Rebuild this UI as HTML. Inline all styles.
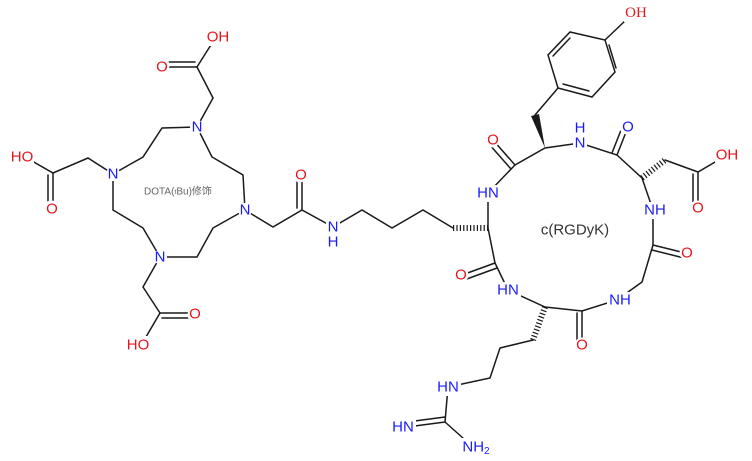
<!DOCTYPE html>
<html><head><meta charset="utf-8"><style>
html,body{margin:0;padding:0;background:#fff;}
svg{display:block;}
text{font-family:"Liberation Sans","Noto Sans CJK SC",sans-serif;font-size:15px;text-anchor:middle;dominant-baseline:central;}
.r{fill:#e8141c;} .b{fill:#1a1aff;}
</style></head><body>
<svg width="752" height="461" viewBox="0 0 752 461">
<g stroke="#1a1a1a" stroke-width="1.5" fill="none" stroke-linecap="round">
<line x1="197" y1="67" x2="214" y2="40"/>
<line x1="197" y1="67" x2="162" y2="67"/><line x1="195" y1="62" x2="162" y2="62"/>
<line x1="197" y1="67" x2="213" y2="98"/><line x1="213" y1="98" x2="197" y2="127"/>
<polyline points="197,127 162,128 143,157 113,174"/>
<polyline points="197,127 212,157 243,175 245,210"/>
<polyline points="245,210 213,228 197,257 160,257"/>
<polyline points="160,257 143,228 113,210 113,174"/>
<polyline points="113,174 88,158 53,173 25,157"/>
<line x1="53" y1="173" x2="53" y2="205"/><line x1="48" y1="175" x2="48" y2="205"/>
<polyline points="160,257 143,287 160,313 143,342"/>
<line x1="160" y1="313" x2="193" y2="313"/><line x1="162" y1="318" x2="193" y2="318"/>
<polyline points="245,210 273,227 302,210 333,227 362,210 392,228 423,210 453,228"/>
<line x1="302" y1="210" x2="302" y2="175"/><line x1="297" y1="208" x2="297" y2="175"/>
<line x1="453" y1="228" x2="488" y2="228" stroke-width="6" stroke-dasharray="1.2 2.2" stroke-linecap="butt"/>
<polyline points="488,228 488,193 515,165 545,148 580,143 617,155 642,178 653,210 653,245 642,282 617,300 582,311 545,307 508,290 495,263 488,228"/>
<line x1="515" y1="165" x2="493" y2="140"/><line x1="511" y1="169" x2="489" y2="144"/>
<line x1="617" y1="155" x2="628" y2="127"/><line x1="612" y1="153" x2="623" y2="125"/>
<line x1="653" y1="245" x2="685" y2="253"/><line x1="652" y1="250" x2="684" y2="258"/>
<line x1="582" y1="311" x2="582" y2="345"/><line x1="577" y1="313" x2="577" y2="345"/>
<line x1="495" y1="263" x2="462" y2="275"/><line x1="497" y1="268" x2="464" y2="280"/>
<line x1="642" y1="178" x2="665" y2="160" stroke-width="6" stroke-dasharray="1.2 2.2" stroke-linecap="butt"/>
<polyline points="665,160 698,172 727,155"/>
<line x1="698" y1="172" x2="698" y2="207"/><line x1="693" y1="174" x2="693" y2="207"/>
<line x1="535" y1="115" x2="558" y2="88"/>
<polygon points="545,148 531,116 539,114" fill="#1a1a1a" stroke="none"/>
<polygon points="558,88 548,55 570,32 605,40 615,72 592,97"/>
<line x1="553" y1="56" x2="570" y2="38"/><line x1="609" y1="45" x2="616" y2="68"/><line x1="563" y1="84" x2="589" y2="91"/>
<line x1="605" y1="40" x2="626" y2="20"/>
<line x1="545" y1="307" x2="533" y2="340" stroke-width="6" stroke-dasharray="1.2 2.2" stroke-linecap="butt"/>
<polyline points="533,340 500,348 490,378 448,387 445,422 473,447"/>
<line x1="445" y1="422" x2="407" y2="427"/><line x1="445" y1="417" x2="407" y2="422"/>
</g>
<g fill="#fff">
<rect x="206" y="28" width="25" height="18"/>
<circle cx="162" cy="65" r="7.5"/>
<circle cx="197" cy="127" r="7"/><circle cx="113" cy="174" r="7"/><circle cx="245" cy="210" r="7"/><circle cx="160" cy="257" r="7"/>
<rect x="9" y="148" width="25" height="18"/>
<circle cx="51" cy="208" r="7.5"/><circle cx="195" cy="315" r="7.5"/>
<rect x="125" y="336" width="25" height="18"/>
<circle cx="300" cy="175" r="7.5"/>
<rect x="326" y="219" width="14" height="30"/>
<rect x="476" y="185" width="25" height="17"/>
<circle cx="492" cy="140" r="7.5"/>
<rect x="573" y="120" width="14" height="31"/>
<circle cx="627" cy="127" r="7.5"/>
<rect x="715" y="146" width="25" height="18"/>
<circle cx="697" cy="208" r="7.5"/>
<rect x="643" y="202" width="25" height="17"/>
<circle cx="687" cy="253" r="7.5"/>
<rect x="607" y="292" width="26" height="17"/>
<circle cx="582" cy="345" r="7.5"/>
<rect x="496" y="282" width="25" height="17"/>
<circle cx="461" cy="275" r="7.5"/>
<rect x="436" y="379" width="25" height="17"/>
<rect x="391" y="419" width="25" height="17"/>
<rect x="461" y="438" width="32" height="19"/>
<rect x="624" y="4" width="24" height="18"/>
</g>
<text x="218" y="37" class="r">OH</text>
<text x="162" y="67" class="r">O</text>
<text x="197" y="127" class="b">N</text>
<text x="113" y="174" class="b">N</text>
<text x="245" y="210" class="b">N</text>
<text x="160" y="257" class="b">N</text>
<text x="22" y="157" class="r">HO</text>
<text x="52" y="209" class="r">O</text>
<text x="195" y="314" class="r">O</text>
<text x="138" y="345" class="r">HO</text>
<text x="178" y="192" style="font-size:10px;fill:#666">DOTA(<tspan style="font-size:7px">t</tspan>Bu)修饰</text>
<text x="301" y="175" class="r">O</text>
<text x="333" y="227" class="b">N</text>
<text x="333" y="242" class="b">H</text>
<text x="488" y="193" class="b">HN</text>
<text x="493" y="140" class="r">O</text>
<text x="580" y="143" class="b">N</text>
<text x="580" y="128" class="b">H</text>
<text x="628" y="127" class="b">O</text>
<text x="727" y="155" class="r">OH</text>
<text x="698" y="208" class="r">O</text>
<text x="655" y="210" class="b">NH</text>
<text x="687" y="253" class="r">O</text>
<text x="620" y="300" class="b">NH</text>
<text x="582" y="345" class="r">O</text>
<text x="508" y="290" class="b">HN</text>
<text x="461" y="275" class="r">O</text>
<text x="575" y="230" style="fill:#333">c(RGDyK)</text>
<text x="636" y="13" class="r" style="font-family:'Liberation Serif',serif">OH</text>
<text x="448" y="387" class="b">HN</text>
<text x="403" y="427" class="b">HN</text>
<text x="476" y="447" class="b">NH<tspan dy="4" style="font-size:10px">2</tspan></text>
</svg>
</body></html>
